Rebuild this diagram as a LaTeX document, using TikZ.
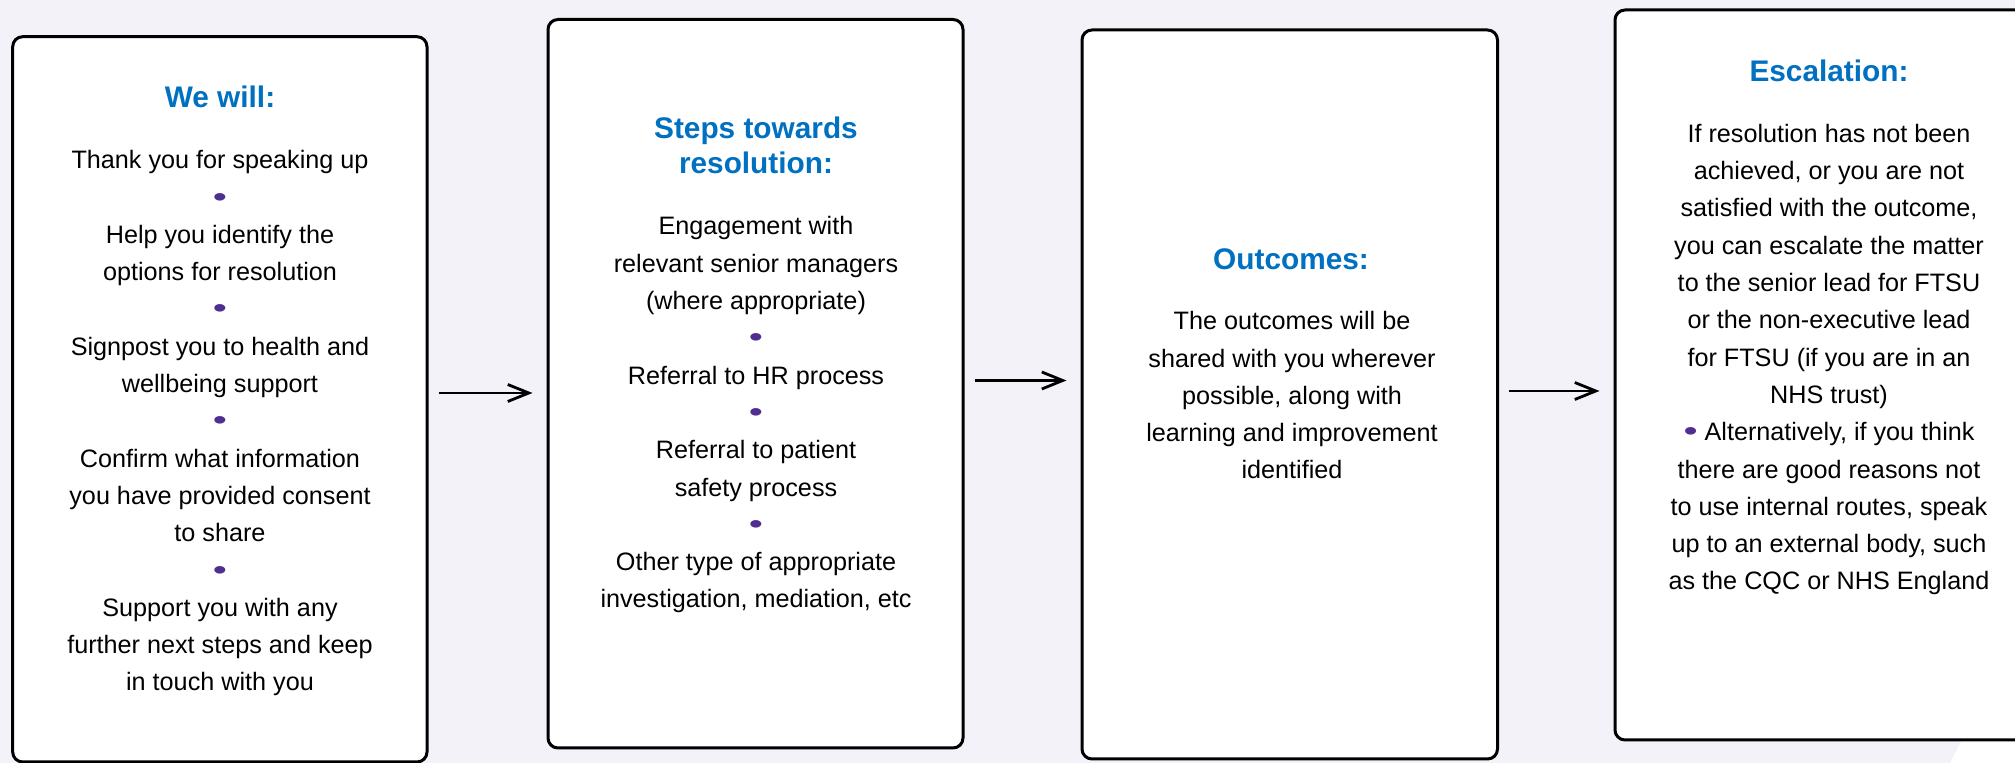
\documentclass[tikz,border=0pt]{standalone}
\usepackage{fontspec}
\setmainfont{Liberation Sans}
\usetikzlibrary{fit,arrows.meta}
\definecolor{pagebg}{RGB}{242,242,248}
\definecolor{headblue}{RGB}{0,112,192}
\definecolor{dotpurple}{RGB}{80,45,145}
\newcommand\bdot{{\color{dotpurple}\scalebox{1.6}[1.1]{\textbullet}}}
\begin{document}
\begin{tikzpicture}[x=0.5pt,y=-0.5pt]
\tikzset{
	panel/.style={draw, fill=white, line width=1.5pt, rounded corners=5pt, inner sep=0pt},
	heading/.style={anchor=base, align=center, text=headblue, font=\fontsize{14.9}{17.65}\selectfont\bfseries},
	body/.style={anchor=base, align=center, font=\fontsize{12.6}{18.65}\selectfont},
	flow/.style={draw, line width=1.4pt, -{Straight Barb[length=10.5pt,width=8.5pt]}, shorten <=5pt, shorten >=7pt}
}

\useasboundingbox (0,0) rectangle (2015,763);
\fill[pagebg] (0,0) rectangle (2015,763);
\fill[white] (1962,740) -- (1950,763) -- (2015,763) -- (2015,740) -- cycle;

\node[panel, fit={(12.7,36.7) (427,762)}] (will) {};
\node[panel, fit={(548,19.5) (963,748)}] (steps) {};
\node[panel, fit={(1082,30) (1497.5,759)}] (outcomes) {};
\node[panel, fit={(1615,10) (2045,740)}] (escalation) {};

% multi-line nodes sit on the baseline of their last line
\node[heading] (will-title) at (220,108) {We will:};
\node[body] (will-text) at (220,691) {Thank you for speaking up\\ \bdot\\
	Help you identify the\\ options for resolution\\ \bdot\\
	Signpost you to health and\\ wellbeing support\\ \bdot\\
	Confirm what information\\ you have provided consent\\ to share\\ \bdot\\
	Support you with any\\ further next steps and keep\\ in touch with you};

\node[heading] (steps-title) at (756,174) {Steps towards\\ resolution:};
\node[body] (steps-text) at (756,608) {Engagement with\\ relevant senior managers\\ (where appropriate)\\ \bdot\\
	Referral to HR process\\ \bdot\\
	Referral to patient\\ safety process\\ \bdot\\
	Other type of appropriate\\ investigation, mediation, etc};

\node[heading] (outcomes-title) at (1291,270) {Outcomes:};
\node[body] (outcomes-text) at (1292,479) {The outcomes will be\\ shared with you wherever\\ possible, along with\\ learning and improvement\\ identified};

\node[heading] (escalation-title) at (1829,81.8) {Escalation:};
\node[body] (escalation-text) at (1829,590) {If resolution has not been\\ achieved, or you are not\\ satisfied with the outcome,\\ you can escalate the matter\\
	to the senior lead for FTSU\\ or the non-executive lead\\ for FTSU (if you are in an\\ NHS trust)\\
	\bdot\ Alternatively, if you think\\ there are good reasons not\\ to use internal routes, speak\\ up to an external body, such\\ as the CQC or NHS England};

\draw[flow] (will.east |- 0,393) -- (steps.west |- 0,393);
\draw[flow] (steps.east |- 0,380.5) -- (outcomes.west |- 0,380.5);
\draw[flow] (outcomes.east |- 0,391) -- (escalation.west |- 0,391);
\end{tikzpicture}
\end{document}
